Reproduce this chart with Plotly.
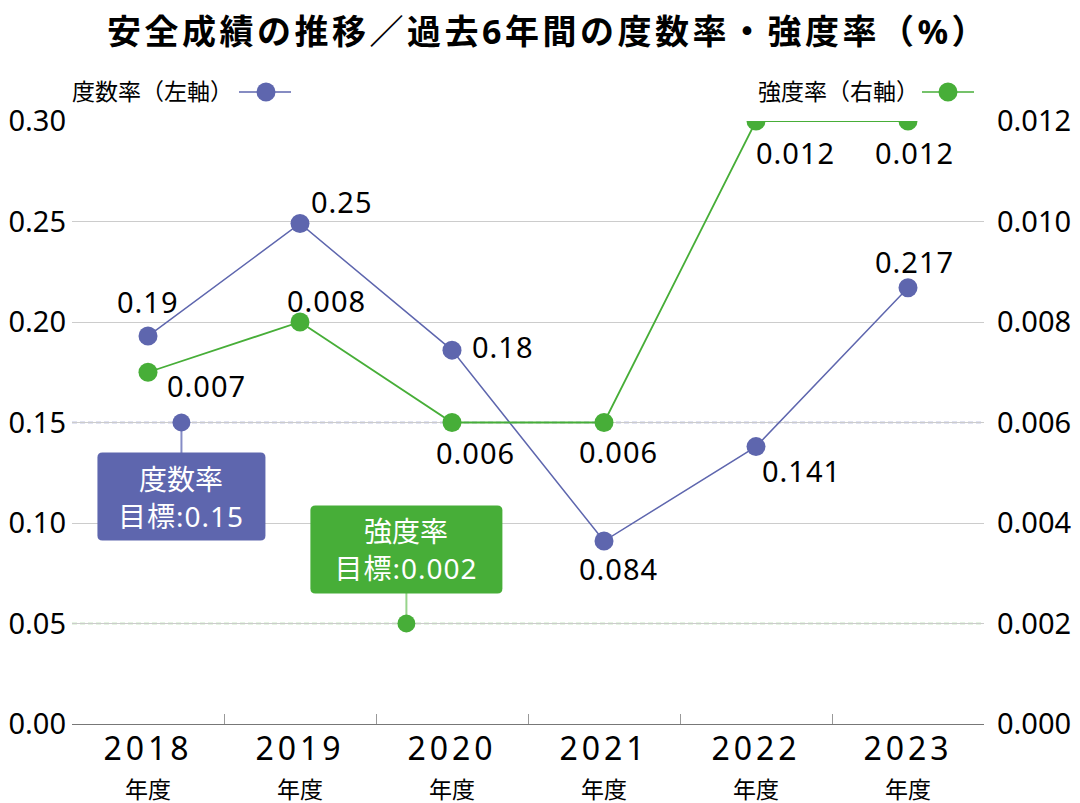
import plotly.graph_objects as go

# data
years = ["2018", "2019", "2020", "2021", "2022", "2023"]
freq_rate = [0.193, 0.249, 0.186, 0.091, 0.138, 0.217]          # 度数率 (left axis)
freq_text = ["0.19", "0.25", "0.18", "0.084", "0.141", "0.217"]
sev_rate = [0.007, 0.008, 0.006, 0.006, 0.012, 0.012]            # 強度率 (right axis)
sev_text = ["0.007", "0.008", "0.006", "0.006", "0.012", "0.012"]
freq_target = 0.15
sev_target = 0.002

Y1_MAX = 0.3
Y2_MAX = 0.012
RATIO = Y1_MAX / Y2_MAX  # right-axis value -> left-axis value

BLUE = "#5e66ae"
GREEN = "#47ae38"
BLUE_LT = "#858cc6"
GREEN_LT = "#97d48b"
FONT = "Noto Sans, Noto Sans CJK JP, sans-serif"

# label offsets (px) relative to each marker
freq_off = [(0, 35), (42, 22), (51, 4), (14, -27), (45, -24), (6, 26)]
sev_off = [(58, -13), (26, 22), (23, -30), (14, -29), (39, -31), (6, -31)]


def spaced(t, px=1):
    return f"<span style='letter-spacing:{px}px'>{t}</span>"


def round_rect(x0, y0, x1, y1, r=5):
    # rounded rectangle path in pixel offsets (y up)
    return (f"M{x0 + r},{y0} L{x1 - r},{y0} Q{x1},{y0} {x1},{y0 + r} "
            f"L{x1},{y1 - r} Q{x1},{y1} {x1 - r},{y1} L{x0 + r},{y1} "
            f"Q{x0},{y1} {x0},{y1 - r} L{x0},{y0 + r} Q{x0},{y0} {x0 + r},{y0} Z")


xs = list(range(len(years)))
tick_text = [f"<span style='font-size:32px;letter-spacing:4px'>{y}</span><br>"
             f"<span style='font-size:23px'>年度</span>" for y in years]

fig = go.Figure()

fig.add_trace(go.Scatter(x=xs, y=freq_rate, mode="lines+markers", name="度数率",
                         line=dict(color=BLUE, width=1.5), marker=dict(color=BLUE, size=19),
                         hoverinfo="skip"))
fig.add_trace(go.Scatter(x=xs, y=sev_rate, mode="lines+markers", name="強度率", yaxis="y2",
                         line=dict(color=GREEN, width=1.8), marker=dict(color=GREEN, size=19),
                         hoverinfo="skip"))

# target markers
fig.add_trace(go.Scatter(x=[0.22], y=[freq_target], mode="markers",
                         marker=dict(color=BLUE, size=18), hoverinfo="skip"))
fig.add_trace(go.Scatter(x=[1.7], y=[sev_target], mode="markers", yaxis="y2",
                         marker=dict(color=GREEN, size=18), hoverinfo="skip"))

# target dashed lines (on the left axis scale so they sit above the grid, grid masked in white)
for yv, col in [(freq_target, BLUE_LT), (sev_target * RATIO, GREEN_LT)]:
    fig.add_shape(type="line", xref="paper", x0=0, x1=1, yref="y", y0=yv, y1=yv,
                  line=dict(color="white", width=2), layer="between")
    fig.add_shape(type="line", xref="paper", x0=0, x1=1, yref="y", y0=yv, y1=yv,
                  line=dict(color=col, width=1.5, dash="5px,3px"), layer="between")

# connectors to target boxes
fig.add_shape(type="line", xref="x", x0=0.22, x1=0.22, yref="y", ysizemode="pixel",
              yanchor=freq_target, y0=0, y1=-31, line=dict(color=BLUE_LT, width=2), layer="between")
fig.add_shape(type="line", xref="x", x0=1.7, x1=1.7, yref="y", ysizemode="pixel",
              yanchor=sev_target * RATIO, y0=0, y1=31, line=dict(color=GREEN_LT, width=2),
              layer="between")

# target boxes (rounded)
fig.add_shape(type="path", xref="x", yref="y", xsizemode="pixel", ysizemode="pixel",
              xanchor=0.22, yanchor=freq_target, path=round_rect(-84, -118, 84, -30),
              fillcolor=BLUE, line=dict(width=0))
fig.add_shape(type="path", xref="x", yref="y", xsizemode="pixel", ysizemode="pixel",
              xanchor=1.7, yanchor=sev_target * RATIO, path=round_rect(-96, 30, 96, 118),
              fillcolor=GREEN, line=dict(width=0))
fig.add_annotation(x=0.22, y=freq_target, xref="x", yref="y", showarrow=False,
                   text=f"度数率<br>{spaced(f'目標:{freq_target:.2f}')}", yanchor="top", yshift=-30,
                   width=160, height=79, borderpad=4,
                   font=dict(family=FONT, size=28, color="white"))
fig.add_annotation(x=1.7, y=sev_target, xref="x", yref="y2", showarrow=False,
                   text=f"強度率<br>{spaced(f'目標:{sev_target:.3f}')}", yanchor="bottom", yshift=30,
                   width=184, height=79, borderpad=4,
                   font=dict(family=FONT, size=28, color="white"))

# data labels
for x, y, t, (dx, dy) in zip(xs, freq_rate, freq_text, freq_off):
    fig.add_annotation(x=x, y=y, yref="y", text=spaced(t), showarrow=False, xshift=dx, yshift=dy,
                       font=dict(family=FONT, size=29, color="black"))
for x, y, t, (dx, dy) in zip(xs, sev_rate, sev_text, sev_off):
    fig.add_annotation(x=x, y=y, yref="y2", text=spaced(t), showarrow=False, xshift=dx, yshift=dy,
                       font=dict(family=FONT, size=29, color="black"))

# legend (drawn by hand: text first, then symbol)
fig.add_annotation(x=0, y=1, xref="paper", yref="paper", text="度数率（左軸）", showarrow=False,
                   xanchor="left", yanchor="middle", xshift=-2, yshift=30,
                   font=dict(family=FONT, size=23, color="black"))
fig.add_annotation(x=1, y=1, xref="paper", yref="paper", text="強度率（右軸）", showarrow=False,
                   xanchor="right", yanchor="middle", xshift=-63, yshift=30,
                   font=dict(family=FONT, size=23, color="black"))
for anchor, (l0, l1, c), col in [(0, (167, 219, 194), BLUE), (1, (-62, -10, -36), GREEN)]:
    fig.add_shape(type="line", xref="paper", yref="paper", xsizemode="pixel", ysizemode="pixel",
                  xanchor=anchor, yanchor=1, x0=l0, x1=l1, y0=29, y1=29,
                  line=dict(color=col, width=1.5))
    fig.add_shape(type="circle", xref="paper", yref="paper", xsizemode="pixel", ysizemode="pixel",
                  xanchor=anchor, yanchor=1, x0=c - 9.5, x1=c + 9.5, y0=29 - 9.5, y1=29 + 9.5,
                  fillcolor=col, line=dict(width=0))

fig.update_layout(
    width=1080, height=803,
    margin=dict(l=64, r=104, t=113, b=87),
    plot_bgcolor="white", paper_bgcolor="white",
    showlegend=False,
    title=dict(text="<b><span style='letter-spacing:3.5px'>安全成績の推移／過去6年間の度数率・強度率（%）</span></b>",
               x=0.5, xref="container", xanchor="center", y=0.970, yanchor="middle",
               font=dict(family=FONT, size=34, color="black")),
    xaxis=dict(range=[-0.5, 5.5], tickvals=xs, ticktext=tick_text, ticks="", automargin=False,
               showgrid=False, zeroline=False, showline=True, linecolor="#777777", linewidth=1,
               tickfont=dict(family=FONT, size=29, color="black"),
               minor=dict(tickvals=[i + 0.5 for i in xs[:-1]], ticks="inside", ticklen=10,
                          tickcolor="#999999", tickwidth=1, showgrid=False)),
    yaxis=dict(range=[0, Y1_MAX], dtick=0.05, tickformat=".2f", ticks="", automargin=False,
               showgrid=True, gridcolor="#cccccc", gridwidth=1, zeroline=False, showline=False,
               ticklabelstandoff=5,
               tickfont=dict(family=FONT, size=29, color="black")),
    yaxis2=dict(range=[0, Y2_MAX], dtick=0.002, tickformat=".3f", ticks="", overlaying="y",
                side="right", showgrid=False, zeroline=False, showline=False, automargin=False,
                ticklabelstandoff=12,
                tickfont=dict(family=FONT, size=29, color="black")),
)

fig.write_html("out.html")
